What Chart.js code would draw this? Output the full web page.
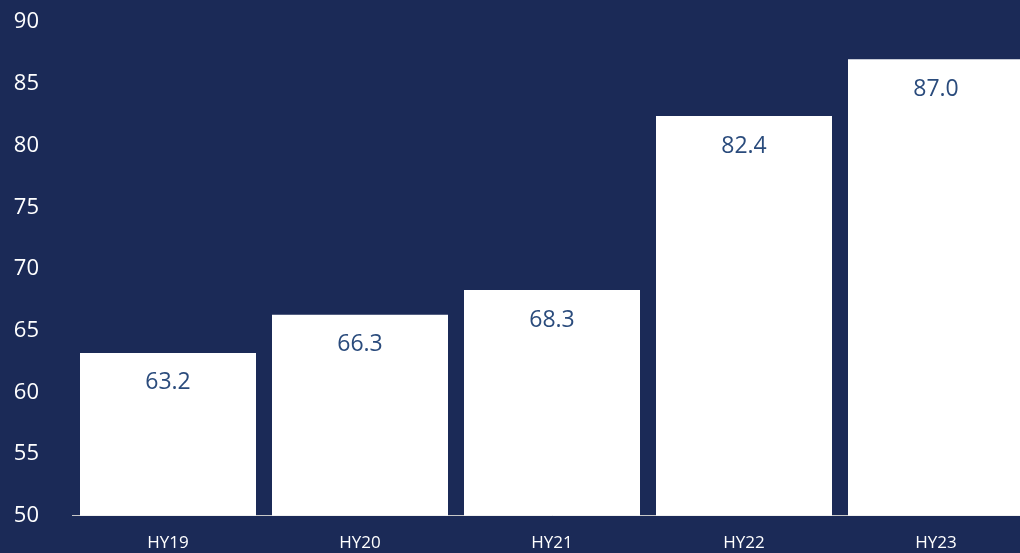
<!DOCTYPE html>
<html>
<head>
<meta charset="utf-8">
<script src="https://cdn.jsdelivr.net/npm/chart.js@4/dist/chart.umd.min.js"></script>
<style>
	html, body { margin: 0; padding: 0; background: #1b2a57; overflow: hidden; }
	#wrap { width: 1032px; height: 586px; margin-top: -24px; }
</style>
</head>
<body>
<div id="wrap"><canvas id="canvas"></canvas></div>
<script>
var categories = [ "HY19", "HY20", "HY21", "HY22", "HY23" ];
var values = [ 63.2, 66.3, 68.3, 82.4, 87.0 ];
var yTicks = [ 50, 55, 60, 65, 70, 75, 80, 85, 90 ];

var fontName = "'Open Sans', 'Noto Sans', sans-serif";

// value text inside each bar, near the top
var valueLabels = {
	id : 'valueLabels',
	afterDatasetsDraw : function(chart) {
		var ctx = chart.ctx;
		var meta = chart.getDatasetMeta(0);
		ctx.save();
		ctx.font = '23px ' + fontName;
		ctx.fillStyle = '#2a4b7c';
		ctx.textAlign = 'center';
		ctx.textBaseline = 'middle';
		meta.data.forEach(function(bar, i) {
			ctx.fillText(values[i].toFixed(1), bar.x, bar.y + 30);
		});
		ctx.restore();
	}
};

window.onload = function() {
	var ctx = document.getElementById("canvas").getContext("2d");
	window.myBar = new Chart(ctx, {
		type : 'bar',
		data : {
			labels : categories,
			datasets : [ {
				data : values,
				backgroundColor : '#ffffff',
				borderWidth : 0,
				barPercentage : 1,
				categoryPercentage : 176 / 192
			} ]
		},
		options : {
			responsive : true,
			maintainAspectRatio : false,
			animation : false,
			layout : {
				padding : { top : -17, bottom : -14, left : 0, right : 0 }
			},
			plugins : {
				legend : { display : false },
				tooltip : { enabled : false }
			},
			scales : {
				x : {
					grid : { display : false, drawTicks : false },
					border : { display : true, color : '#c8c8c8', width : 1 },
					ticks : {
						color : '#ffffff',
						padding : 17,
						font : { family : fontName, size : 17 }
					}
				},
				y : {
					min : 50,
					max : 90,
					afterBuildTicks : function(scale) {
						scale.ticks = yTicks.map(function(v) { return { value : v }; });
					},
					afterFit : function(scale) {
						scale.width = 72;
					},
					grid : { display : false, drawTicks : false },
					border : { display : false },
					ticks : {
						color : '#ffffff',
						padding : 33,
						font : { family : fontName, size : 22 }
					}
				}
			}
		},
		plugins : [ valueLabels ]
	});
};
</script>
</body>
</html>
